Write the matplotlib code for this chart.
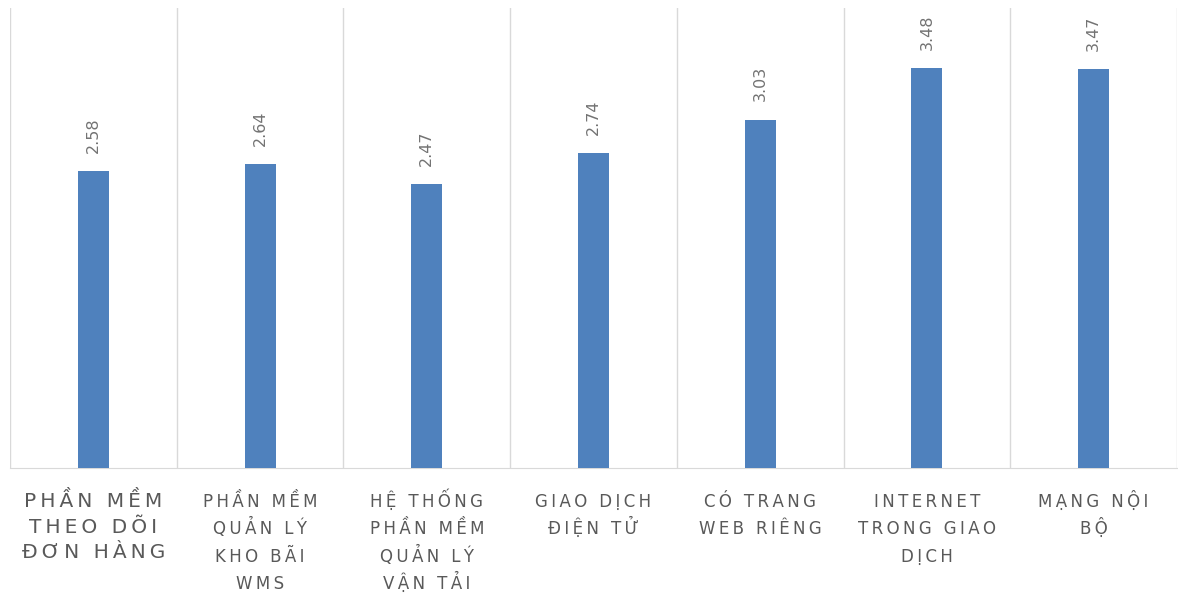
import matplotlib
matplotlib.use("Agg")
import matplotlib.pyplot as plt
import numpy as np

categories = [
    "PHẦN MỀM\nTHEO DÕI\nĐƠN HÀNG",
    "PHẦN MỀM\nQUẢN LÝ\nKHO BÃI\nWMS",
    "HỆ THỐNG\nPHẦN MỀM\nQUẢN LÝ\nVẬN TẢI",
    "GIAO DỊCH\nĐIỆN TỬ",
    "CÓ TRANG\nWEB RIÊNG",
    "INTERNET\nTRONG GIAO\nDỊCH",
    "MẠNG NỘI\nBỘ",
]
scores = [2.58, 2.64, 2.47, 2.74, 3.03, 3.48, 3.47]

bar_color = "#4F81BD"
text_color = "#595959"
value_color = "#737373"
grid_color = "#D9D9D9"


def spaced(line, gap="\u2009"):
    # crude letter spacing: thin space between every character
    return gap.join(line)


fig = plt.figure(figsize=(11.78, 5.97), dpi=100)
ax = fig.add_axes([10 / 1178, 1 - 468 / 597, 1167 / 1178, 460 / 597])

x = np.arange(len(categories))
bars = ax.bar(x, scores, width=0.186, color=bar_color, zorder=3)

for rect, v in zip(bars, scores):
    ax.annotate(f"{v:.2f}", (rect.get_x() + rect.get_width() / 2, v),
                xytext=(0, 13), textcoords="offset points",
                rotation=90, ha="center", va="bottom",
                fontsize=11.5, color=value_color)

# category separators
for b in np.arange(-0.5, len(categories), 1.0):
    ax.axvline(b, color=grid_color, linewidth=1, zorder=1)

# category labels, one line at a time so the line pitch stays even
for i, label in enumerate(categories):
    if i == 0:
        size, first, step = 14.5, 28.0, 18.5
    else:
        size, first, step = 12, 28.0, 19.7
    for j, line in enumerate(label.split("\n")):
        ax.annotate(spaced(line), (i, 0), xycoords=("data", "axes fraction"),
                    xytext=(0, -(first + j * step)), textcoords="offset points",
                    ha="center", va="baseline", fontsize=size,
                    color=text_color, annotation_clip=False)

ax.set_xlim(-0.5, len(categories) - 0.5)
ax.set_ylim(0, 4)
ax.set_yticks([])
ax.set_xticks([])

for side in ("top", "right", "left"):
    ax.spines[side].set_visible(False)
ax.spines["bottom"].set_color(grid_color)

fig.savefig("out.png", dpi=100)
